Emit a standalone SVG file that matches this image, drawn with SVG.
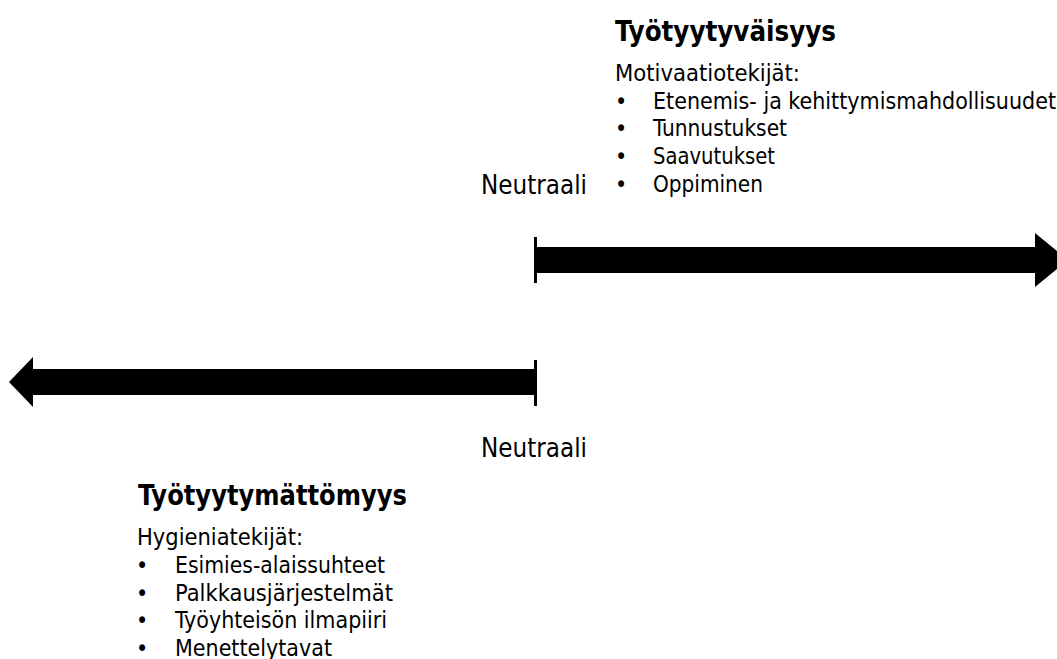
<svg xmlns="http://www.w3.org/2000/svg" width="1057" height="659" viewBox="0 0 1057 659">
<style>
text{font-family:'DejaVu Sans Condensed','DejaVu Sans',sans-serif;font-stretch:condensed;fill:#000}
.t{font-size:29px;font-weight:bold}
.b{font-size:23px}
.n{font-size:26px}
.arrow{fill:#000}
</style>
<rect width="1057" height="659" fill="#fff"/>
<g id="connectors">
  <g id="arrow-top">
    <rect class="arrow" x="534" y="237" width="3" height="46"/>
    <polygon class="arrow" points="537,247 1035,247 1035,233 1068,260 1035,287 1035,273 537,273"/>
  </g>
  <g id="arrow-bottom">
    <rect class="arrow" x="534" y="360" width="3" height="46"/>
    <polygon class="arrow" points="537,369 33,369 33,357 9,382 33,407 33,395 537,395"/>
  </g>
</g>
<g id="neutral-top">
  <text class="n" x="481" y="194" textLength="106" lengthAdjust="spacingAndGlyphs">Neutraali</text>
</g>
<g id="neutral-bottom">
  <text class="n" x="481" y="457" textLength="106" lengthAdjust="spacingAndGlyphs">Neutraali</text>
</g>
<g id="satisfaction">
  <text class="t" x="615" y="41" textLength="221" lengthAdjust="spacingAndGlyphs">Työtyytyväisyys</text>
  <text class="b" x="615" y="81" textLength="185" lengthAdjust="spacingAndGlyphs">Motivaatiotekijät:</text>
  <text class="b" x="615" y="109">•</text>
  <text class="b" x="653" y="109" textLength="403" lengthAdjust="spacingAndGlyphs">Etenemis- ja kehittymismahdollisuudet</text>
  <text class="b" x="615" y="136">•</text>
  <text class="b" x="653" y="136" textLength="134" lengthAdjust="spacingAndGlyphs">Tunnustukset</text>
  <text class="b" x="615" y="164">•</text>
  <text class="b" x="653" y="164" textLength="122" lengthAdjust="spacingAndGlyphs">Saavutukset</text>
  <text class="b" x="615" y="192">•</text>
  <text class="b" x="653" y="192" textLength="110" lengthAdjust="spacingAndGlyphs">Oppiminen</text>
</g>
<g id="dissatisfaction">
  <text class="t" x="138" y="505" textLength="269" lengthAdjust="spacingAndGlyphs">Työtyytymättömyys</text>
  <text class="b" x="137" y="545" textLength="166" lengthAdjust="spacingAndGlyphs">Hygieniatekijät:</text>
  <text class="b" x="136" y="573">•</text>
  <text class="b" x="175" y="573" textLength="210" lengthAdjust="spacingAndGlyphs">Esimies-alaissuhteet</text>
  <text class="b" x="136" y="601">•</text>
  <text class="b" x="175" y="601" textLength="218" lengthAdjust="spacingAndGlyphs">Palkkausjärjestelmät</text>
  <text class="b" x="136" y="628">•</text>
  <text class="b" x="175" y="628" textLength="212" lengthAdjust="spacingAndGlyphs">Työyhteisön ilmapiiri</text>
  <text class="b" x="136" y="656">•</text>
  <text class="b" x="175" y="656" textLength="157" lengthAdjust="spacingAndGlyphs">Menettelytavat</text>
</g>
</svg>
